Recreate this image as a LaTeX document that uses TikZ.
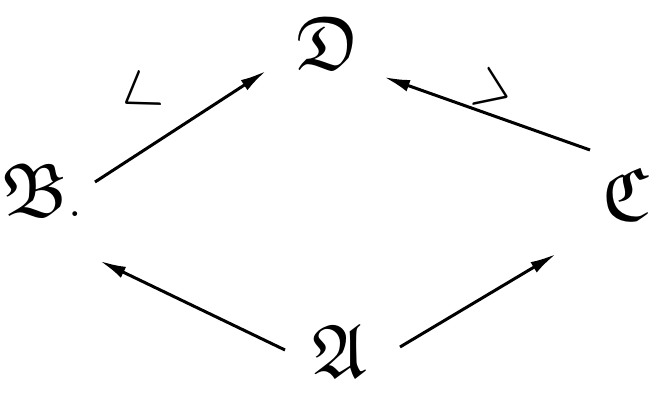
\documentclass[tikz,border=0pt]{standalone}
\usepackage{amssymb}
\usetikzlibrary{positioning,arrows.meta}
\tikzset{
  letter/.style={inner sep=0pt, font=\fontsize{38}{42}\selectfont},
  mapto/.style={line width=1.5pt, draw=black, -{Latex[length=13pt,width=6pt]}},
  order/.style={inner sep=0pt, font=\fontsize{34}{38}\selectfont}
}
\begin{document}
\begin{tikzpicture}[x=0.5pt,y=-0.5pt]
  \useasboundingbox (0,0) rectangle (653,394);
  \node[letter] (d) at (328,43) {$\mathfrak{D}$};
  \node[letter] (b) at (42,190) {$\mathfrak{B}.$};
  \node[letter] (c) at (626,194) {$\mathfrak{C}$};
  \node[letter] (a) at (340,351) {$\mathfrak{A}$};

  \draw[mapto] ([shift={(53,-8)}]b.center) -- ([shift={(-62,28)}]d.center);
  \draw[mapto] ([shift={(-36,-44)}]c.center) -- ([shift={(56,34)}]d.center);
  \draw[mapto] ([shift={(-55,-1)}]a.center) -- ([shift={(58,71)}]b.center);
  \draw[mapto] ([shift={(60,-4)}]a.center) -- ([shift={(-70,60)}]c.center);

  % order signs
  \node[order,rotate=33,yscale=1.5] (lt) at (138,96) {$<$};
  \node[order,rotate=-23,yscale=1.5] (gt) at (494,92) {$>$};
\end{tikzpicture}
\end{document}
